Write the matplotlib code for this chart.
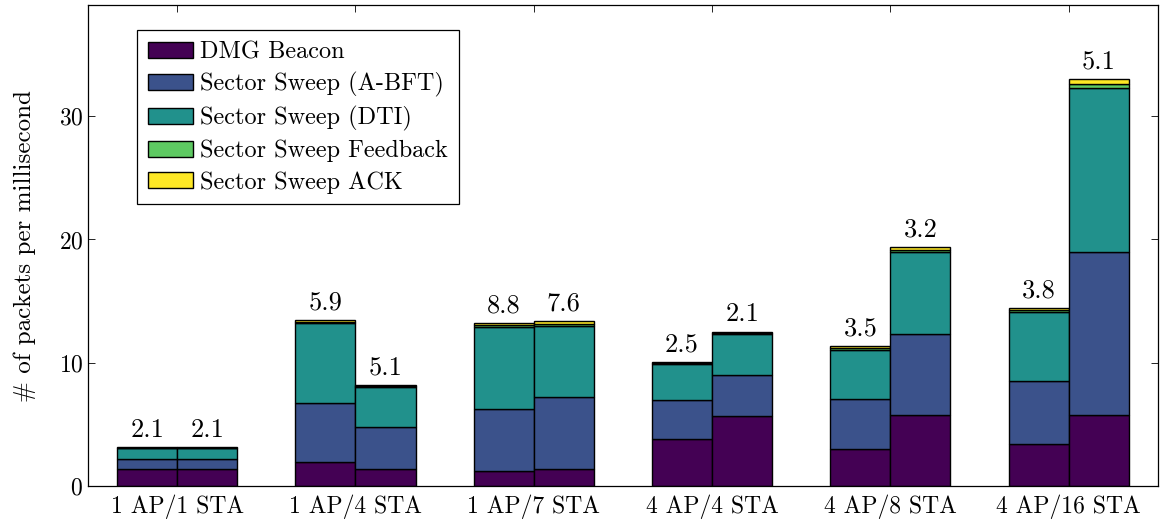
import numpy as np
import matplotlib.pyplot as plt

plt.rcParams['font.family'] = 'serif'
plt.rcParams['font.serif'] = ['cmr10', 'DejaVu Serif']
plt.rcParams['axes.formatter.use_mathtext'] = True
plt.rcParams['mathtext.fontset'] = 'cm'

scenarios = ["1 AP/1 STA", "1 AP/4 STA", "1 AP/7 STA", "4 AP/4 STA", "4 AP/8 STA", "4 AP/16 STA"]
frame_types = ["DMG Beacon", "Sector Sweep (A-BFT)", "Sector Sweep (DTI)",
               "Sector Sweep Feedback", "Sector Sweep ACK"]

# packets/ms per frame type, first and second bar of each scenario
beacon_a = [1.4, 1.93, 1.18, 3.84, 2.97, 3.43]
abft_a = [0.8, 4.83, 5.09, 3.16, 4.09, 5.07]
dti_a = [0.9, 6.43, 6.63, 2.88, 3.94, 5.58]
feedback_a = [0.02, 0.13, 0.15, 0.1, 0.17, 0.19]
ack_a = [0.02, 0.13, 0.15, 0.09, 0.17, 0.19]

beacon_b = [1.4, 1.37, 1.4, 5.7, 5.73, 5.73]
abft_b = [0.8, 3.39, 5.82, 3.34, 6.64, 13.23]
dti_b = [0.9, 3.27, 5.78, 3.28, 6.59, 13.29]
feedback_b = [0.02, 0.07, 0.15, 0.09, 0.2, 0.4]
ack_b = [0.02, 0.07, 0.2, 0.09, 0.21, 0.35]

labels_a = ["2.1", "5.9", "8.8", "2.5", "3.5", "3.8"]
labels_b = ["2.1", "5.1", "7.6", "2.1", "3.2", "5.1"]

colors = ["#440154", "#3b528b", "#21918c", "#5ec962", "#fde725"]

fig = plt.figure(figsize=(11.66, 5.23), dpi=100)
ax = fig.add_axes([0.0755, 0.0707, 0.9175, 0.9193])

x = np.arange(len(scenarios))
w = 0.337

def stack(xpos, series, labels, add_legend):
    bottom = np.zeros(len(xpos))
    for vals, col, name in zip(series, colors, frame_types):
        ax.bar(xpos, vals, w, bottom=bottom, color=col, edgecolor='black',
               linewidth=1.0, label=name if add_legend else None)
        bottom = bottom + np.array(vals)
    for xi, top, lab in zip(xpos, bottom, labels):
        ax.annotate(lab, (xi, top), xytext=(0, 4), textcoords='offset points',
                    ha='center', va='bottom', fontsize=19)

stack(x - w / 2, [beacon_a, abft_a, dti_a, feedback_a, ack_a], labels_a, True)
stack(x + w / 2, [beacon_b, abft_b, dti_b, feedback_b, ack_b], labels_b, False)

ax.set_xlim(-0.5, 5.5)
ax.set_ylim(0, 39)
ax.set_xticks(x)
ax.set_xticklabels(scenarios)
ax.set_yticks([0, 10, 20, 30])
ax.tick_params(direction='in', top=True, right=True, labelsize=17, length=5, width=0.6)
ax.tick_params(axis='x', pad=6)
ax.set_ylabel("# of packets per millisecond", fontsize=18, labelpad=16)
for s in ax.spines.values():
    s.set_linewidth(0.9)

leg = ax.legend(loc='upper left', bbox_to_anchor=(0.046, 0.948), fontsize=17.5,
                fancybox=False, edgecolor='black', framealpha=1,
                handlelength=1.85, handleheight=0.62, handletextpad=0.3,
                labelspacing=0.36, borderpad=0.45, borderaxespad=0)
leg.get_frame().set_linewidth(0.9)

fig.savefig("out.png", dpi=100)
